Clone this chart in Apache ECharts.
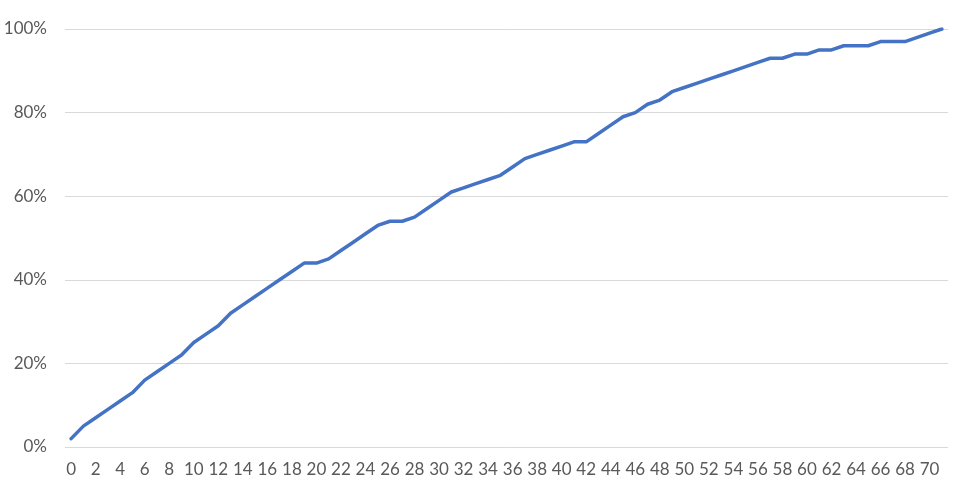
<!DOCTYPE html>
<html>
<head>
<meta charset="utf-8">
<script src="https://cdn.jsdelivr.net/npm/echarts@6/dist/echarts.min.js"></script>
<style>
html,body{margin:0;padding:0;background:#fff;}
#chart{width:960px;height:493px;}
</style>
</head>
<body>
<div id="chart"></div>
<script>
const categories = [];
for (let i = 0; i <= 71; i++) categories.push(String(i));
const values = [
  2, 5, 7, 9, 11, 13, 16, 18, 20, 22,
  25, 27, 29, 32, 34, 36, 38, 40, 42, 44,
  44, 45, 47, 49, 51, 53, 54, 54, 55, 57,
  59, 61, 62, 63, 64, 65, 67, 69, 70, 71,
  72, 73, 73, 75, 77, 79, 80, 82, 83, 85,
  86, 87, 88, 89, 90, 91, 92, 93, 93, 94,
  94, 95, 95, 96, 96, 96, 97, 97, 97, 98,
  99, 100
];
const yTicks = [0, 20, 40, 60, 80, 100];

const chart = echarts.init(document.getElementById('chart'));
chart.setOption({
  animation: false,
  grid: { left: 65, right: 12, top: 29, bottom: 46, containLabel: false },
  xAxis: {
    type: 'category',
    data: categories,
    boundaryGap: true,
    axisLine: { show: false },
    axisTick: { show: false },
    axisLabel: { interval: 1, color: '#595959', fontFamily: 'Lato', fontSize: 17, margin: 14 }
  },
  yAxis: {
    type: 'value',
    min: yTicks[0],
    max: yTicks[yTicks.length - 1],
    interval: 20,
    axisLine: { show: false },
    axisTick: { show: false },
    splitLine: { lineStyle: { color: '#d9d9d9', width: 1 } },
    axisLabel: { color: '#595959', fontFamily: 'Lato', fontSize: 17, margin: 18, formatter: v => v + '%' }
  },
  series: [{
    type: 'line',
    data: values,
    symbol: 'none',
    lineStyle: { color: '#4472C4', width: 3.5, cap: 'round', join: 'round' }
  }]
});
</script>
</body>
</html>
